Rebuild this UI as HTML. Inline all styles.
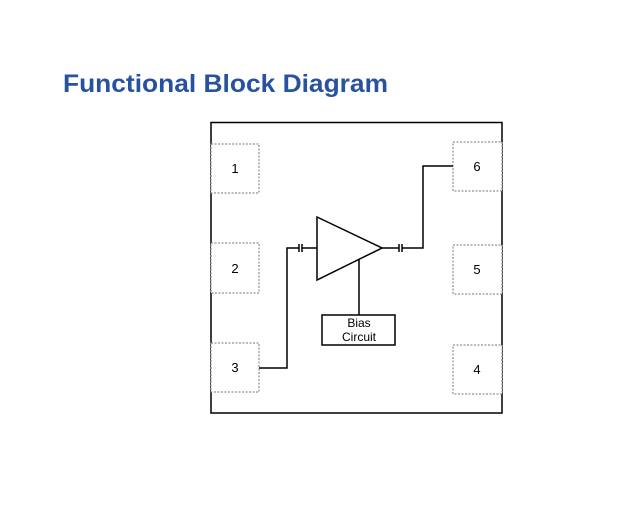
<!DOCTYPE html>
<html><head><style>html,body{margin:0;padding:0;background:#fff;}svg{display:block}</style></head>
<body>
<svg width="618" height="514" viewBox="0 0 618 514" xmlns="http://www.w3.org/2000/svg">
<text x="63" y="92" font-family="Liberation Sans, sans-serif" font-weight="bold" font-size="25" fill="#2752a0" textLength="325" lengthAdjust="spacingAndGlyphs">Functional Block Diagram</text>
<rect x="211" y="122.5" width="291" height="290.5" fill="none" stroke="#000" stroke-width="1.5"/>
<g fill="#fff" stroke="#777" stroke-width="1" stroke-dasharray="2,1.5">
<rect x="211" y="144" width="48" height="49"/>
<rect x="211" y="243" width="48" height="50"/>
<rect x="211" y="343" width="48" height="49"/>
<rect x="453" y="142" width="49" height="49"/>
<rect x="453" y="245" width="49" height="49"/>
<rect x="453" y="345" width="49" height="49"/>
</g>
<g font-family="Liberation Sans, sans-serif" font-size="13" fill="#000" text-anchor="middle">
<text x="235" y="173">1</text>
<text x="235" y="273">2</text>
<text x="235" y="372">3</text>
<text x="477" y="171">6</text>
<text x="477" y="274">5</text>
<text x="477" y="374">4</text>
</g>
<g fill="none" stroke="#000" stroke-width="1.5">
<polyline points="259,368 287,368 287,248 299,248"/>
<line x1="299" y1="244" x2="299" y2="252"/>
<line x1="302" y1="244" x2="302" y2="252"/>
<line x1="302" y1="248" x2="317" y2="248"/>
<polygon points="317,217 382,248 317,280"/>
<line x1="382" y1="248" x2="399" y2="248"/>
<line x1="399" y1="244" x2="399" y2="252"/>
<line x1="402" y1="244" x2="402" y2="252"/>
<polyline points="402,248 423,248 423,166 453,166"/>
<line x1="359" y1="259" x2="359" y2="315"/>
<rect x="322" y="315" width="73" height="30"/>
</g>
<g font-family="Liberation Sans, sans-serif" font-size="12" fill="#000" text-anchor="middle">
<text x="359" y="327">Bias</text>
<text x="359" y="341">Circuit</text>
</g>
</svg>
</body></html>
